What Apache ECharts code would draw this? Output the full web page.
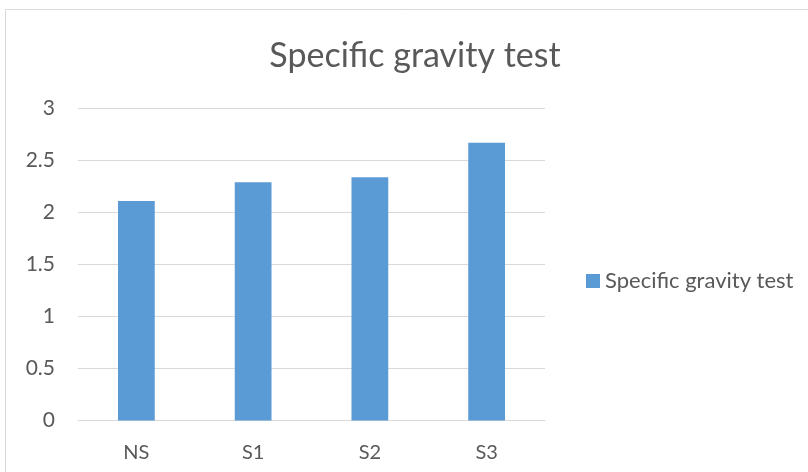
<!DOCTYPE html>
<html>
<head>
<meta charset="utf-8">
<script src="https://cdn.jsdelivr.net/npm/echarts@6/dist/echarts.min.js"></script>
<style>
html,body{margin:0;padding:0;background:#fff;}
#chart{width:808px;height:472px;}
</style>
</head>
<body>
<div id="chart"></div>
<script>
const categories = ['NS', 'S1', 'S2', 'S3'];
const seriesName = 'Specific gravity test';
const values = [2.11, 2.29, 2.34, 2.67];
const yTicks = [0, 0.5, 1, 1.5, 2, 2.5, 3];

const chart = echarts.init(document.getElementById('chart'));
const font = 'Lato, "Open Sans", sans-serif';
chart.setOption({
  animation: false,
  backgroundColor: '#fff',
  title: {
    text: 'Specific gravity test',
    left: 410, top: 34, textAlign: 'center',
    textStyle: {fontFamily: font, fontSize: 34, fontWeight: 'normal', color: '#595959'}
  },
  graphic: [{
    type: 'rect', shape: {x: 5.5, y: 9.5, width: 1000, height: 1000},
    style: {fill: 'none', stroke: '#d9d9d9', lineWidth: 1}, silent: true
  }],
  legend: {
    data: [seriesName], left: 581, top: 265, orient: 'vertical',
    itemWidth: 14, itemHeight: 14, itemGap: 6,
    icon: 'rect',
    textStyle: {fontFamily: font, fontSize: 22, color: '#595959'}
  },
  grid: {left: 78, right: 263, top: 108.5, bottom: 51.5, containLabel: false},
  xAxis: {
    type: 'category', data: categories,
    axisLine: {lineStyle: {color: '#d9d9d9', width: 1}},
    axisTick: {show: false},
    axisLabel: {fontFamily: font, fontSize: 20, color: '#595959', margin: 22}
  },
  yAxis: {
    type: 'value', min: 0, max: 3, interval: 0.5,
    axisLine: {show: false}, axisTick: {show: false},
    splitLine: {lineStyle: {color: '#d9d9d9', width: 1}},
    axisLabel: {fontFamily: font, fontSize: 21, color: '#595959', margin: 23,
      formatter: v => yTicks.includes(v) ? String(v) : ''}
  },
  series: [{
    name: seriesName, type: 'bar', data: values, barWidth: '31.5%',
    itemStyle: {color: '#5B9BD5'}
  }]
});
</script>
</body>
</html>
